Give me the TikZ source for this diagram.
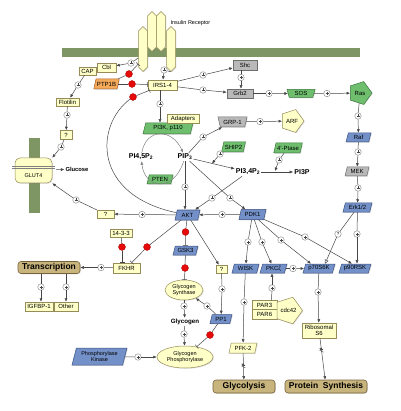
\documentclass[tikz,border=0pt]{standalone}
\usepackage{fontspec}
\setmainfont{Liberation Sans}
\usetikzlibrary{shapes,shapes.geometric,shapes.symbols,arrows.meta,shadows}
\definecolor{rc_yel}{RGB}{255, 255, 200}
\definecolor{rc_ybd}{RGB}{150, 140, 90}
\definecolor{rc_green}{RGB}{110, 190, 110}
\definecolor{rc_gbd}{RGB}{60, 120, 60}
\definecolor{rc_blue}{RGB}{115, 145, 200}
\definecolor{rc_bbd}{RGB}{60, 80, 130}
\definecolor{rc_grey}{RGB}{185, 185, 185}
\definecolor{rc_kbd}{RGB}{110, 110, 110}
\definecolor{rc_orange}{RGB}{245, 170, 90}
\definecolor{rc_obd}{RGB}{170, 100, 40}
\definecolor{rc_tan}{RGB}{200, 180, 125}
\definecolor{rc_tbd}{RGB}{120, 100, 60}
\definecolor{rc_mem}{RGB}{125, 150, 100}
\definecolor{rc_line}{RGB}{70, 70, 70}
\definecolor{rc_red}{RGB}{230, 10, 10}
\tikzstyle{shd}=[drop shadow={opacity=0.25,shadow xshift=0.8pt,shadow yshift=-0.8pt}]
\tikzstyle{ybox}=[rectangle,fill=rc_yel,draw=rc_ybd,line width=0.5pt,
  inner sep=1pt,minimum height=9pt,shd]
\tikzstyle{kbox}=[ybox,fill=rc_grey,draw=rc_kbd]
\tikzstyle{para}=[trapezium,trapezium left angle=70,trapezium right angle=110,
  trapezium stretches body,line width=0.5pt,inner sep=1pt,minimum height=9pt,shd]
\tikzstyle{bpar}=[para,fill=rc_blue,draw=rc_bbd]
\tikzstyle{gpar}=[para,fill=rc_green,draw=rc_gbd]
\tikzstyle{kpar}=[para,fill=rc_grey,draw=rc_kbd]
\tikzstyle{opar}=[para,fill=rc_orange,draw=rc_obd]
\tikzstyle{ypar}=[para,fill=rc_yel,draw=rc_ybd]
\tikzstyle{itrap}=[trapezium,trapezium angle=70,shape border rotate=180,
  trapezium stretches body,line width=0.5pt,inner sep=1pt,shd]
\tikzstyle{gitrap}=[itrap,fill=rc_green,draw=rc_gbd]
\tikzstyle{kitrap}=[itrap,fill=rc_grey,draw=rc_kbd]
\tikzstyle{pent}=[regular polygon,regular polygon sides=5,shape border rotate=-90,
  line width=0.5pt,inner sep=0pt,shd]
\tikzstyle{gpent}=[pent,fill=rc_green,draw=rc_gbd]
\tikzstyle{ypent}=[pent,fill=rc_yel,draw=rc_ybd]
\tikzstyle{oval}=[ellipse,fill=rc_yel,draw=rc_ybd,line width=0.5pt,inner sep=0.5pt,
  align=center,font=\fontsize{5.5}{6}\selectfont,shd]
\tikzstyle{outc}=[rectangle,rounded corners=3pt,fill=rc_tan,draw=rc_tbd,line width=0.6pt,
  inner sep=1pt,minimum height=13pt,font=\fontsize{8.5}{9}\selectfont\bfseries,shd]
\tikzstyle{mol}=[inner sep=1pt,font=\fontsize{7}{8}\selectfont\bfseries]
\tikzstyle{mols}=[inner sep=1pt,font=\fontsize{6.2}{7}\selectfont\bfseries]
\tikzstyle{rec}=[signal,signal to=north and south,fill=rc_yel,draw=rc_ybd,
  line width=0.5pt,inner sep=0pt,minimum width=9pt,shd]
\tikzstyle{pl}=[circle,draw=rc_line!70,fill=white,line width=0.4pt,inner sep=0pt,
  minimum size=6.5pt,path picture={
  \draw[rc_line,line width=0.4pt] ([xshift=-1.5pt]path picture bounding box.center)
    -- ([xshift=1.5pt]path picture bounding box.center)
    ([yshift=-1.5pt]path picture bounding box.center)
    -- ([yshift=1.5pt]path picture bounding box.center);}]
\tikzstyle{qc}=[circle,draw=rc_line!70,fill=white,line width=0.4pt,inner sep=0pt,
  minimum size=6.5pt,font=\fontsize{4.5}{5}\selectfont]
\tikzstyle{rd}=[circle,fill=rc_red,draw=rc_red!70!black,line width=0.3pt,
  inner sep=0pt,minimum size=7pt]
\tikzstyle{inh}=[-{Bar[width=5pt]}]
\tikzstyle{opn}=[-{Triangle[open,length=4pt,width=4pt]}]
\tikzstyle{brk}=[inner sep=0pt,minimum width=6pt,minimum height=6pt,path picture={
  \draw[rc_line,line width=0.4pt] ([shift={(-2pt,0.5pt)}]path picture bounding box.center)
    -- ++(4pt,-2pt) ([shift={(-2pt,2.5pt)}]path picture bounding box.center) -- ++(4pt,-2pt);}]
\tikzstyle{every node}=[text=black,font=\fontsize{6}{6.5}\selectfont]

\begin{document}
\begin{tikzpicture}[x=1pt,y=-1pt,rc_line,line width=0.5pt,>={Latex[length=3.5pt,width=3pt]}]
        \useasboundingbox (0,0) rectangle (400,411);
        % membranes
        \fill [rc_mem] (62,48) rectangle (360,57);
        \fill [rc_mem] (29,138) rectangle (40,213);
        % receptor
        \node [style=rec,minimum height=36pt] (r1) at (143,49) {};
        \node [style=rec,minimum height=31pt] (r2) at (152,31.5) {};
        \node [style=rec,minimum height=31pt] (r3) at (161,31.5) {};
        \node [style=rec,minimum height=36pt] (r4) at (171,49) {};
        \node [anchor=west,font=\fontsize{5.5}{6}\selectfont] (irl) at (167,23) {Insulin Receptor};
        % GLUT4
        \node [rectangle,rounded corners=5pt,fill=rc_yel,draw=rc_ybd,line width=0.5pt,
          minimum width=37pt,minimum height=25pt,shd,
          label={[yshift=-5pt,font=\fontsize{5.5}{6}\selectfont]center:GLUT4}] (glut) at (33.5,170.5) {};
        \draw [gray,line width=0.4pt] (12,166) -- (55,166) (12,168.5) -- (55,168.5);
        \node [style=mols,font=\fontsize{5.8}{6}\selectfont\bfseries] (glc) at (77,169) {Glucose};
        \draw [->,shorten <=4pt] (glut) to (glc);
        % nodes
        \node [style=ybox,minimum width=19pt] (cbl) at (106.5,67.5) {Cbl};
        \node [style=ybox,minimum width=17pt,minimum height=8pt] (cap) at (87.5,71) {CAP};
        \node [style=opar,minimum width=25pt,minimum height=10pt] (ptp) at (106.5,84) {PTP1B};
        \node [style=ybox,minimum width=29pt,minimum height=10pt] (irs) at (162.5,85) {IRS1-4};
        \node [style=ybox,minimum width=23pt,minimum height=8pt] (flo) at (67.5,102) {Flotilin};
        \node [style=ybox,minimum width=12pt] (q1) at (66,135) {?};
        \node [style=kbox,minimum width=24pt,minimum height=10pt] (shc) at (245,65) {Shc};
        \node [style=kbox,minimum width=26pt] (grb) at (240,93.5) {Grb2};
        \node [style=gitrap,minimum width=28pt,minimum height=8pt] (sos) at (301,93.5) {SOS};
        \node [style=gpent,minimum size=24pt] (ras) at (360,93) {Ras};
        \node [style=bpar,minimum width=25pt] (raf) at (358.5,137.5) {Raf};
        \node [style=kpar,minimum width=24pt] (mek) at (357,171.5) {MEK};
        \node [style=bpar,minimum width=29pt] (erk) at (357.5,207.5) {Erk1/2};
        \node [style=gpar,minimum width=50pt,minimum height=11pt] (pik) at (168,128.5) {PI3K, p110};
        \node [style=ybox,minimum width=32pt] (adp) at (183,118.5) {Adapters};
        \node [style=kitrap,minimum width=29pt,minimum height=10pt] (grp) at (232.5,122) {GRP-1};
        \node [style=ypent,minimum size=24pt] (arf) at (292,121) {ARF};
        \node [style=gpar,minimum width=23pt,minimum height=10pt] (shp) at (233.5,147) {SHIP2};
        \node [style=gpar,minimum width=28pt,minimum height=10pt] (pts) at (288,148) {4'-Ptase};
        \node [style=mol] (p45) at (141,157) {PI4,5P\textsubscript{2}};
        \node [style=mol] (pip) at (185,157) {PIP\textsubscript{3}};
        \node [style=gpar,minimum width=26pt] (ptn) at (160,179.5) {PTEN};
        \node [style=mol] (p34) at (248,172) {PI3,4P\textsubscript{2}};
        \node [style=mol] (p3p) at (302,172) {PI3P};
        \node [style=bpar,minimum width=25pt,minimum height=10pt] (akt) at (187.5,215) {AKT};
        \node [style=bpar,minimum width=27pt,minimum height=10pt] (pdk) at (252.5,214.5) {PDK1};
        \node [style=ybox,minimum width=17pt,minimum height=8pt] (q2) at (105.5,214) {?};
        \node [style=ybox,minimum width=22pt,minimum height=8pt] (t14) at (121,233.5) {14-3-3};
        \node [style=ybox,minimum width=27pt,minimum height=10pt] (fkhr) at (126.5,268) {FKHR};
        \node [style=outc,minimum width=62pt,minimum height=12pt] (trn) at (49,267.5) {Transcription};
        \node [style=ybox,minimum width=28pt] (igf) at (39,306.5) {IGFBP-1};
        \node [style=ybox,minimum width=24pt] (oth) at (66,306.5) {Other};
        \node [style=bpar,minimum width=25pt] (gsk) at (185.5,250.5) {GSK3};
        \node [style=oval,minimum width=38pt,minimum height=20pt] (gs) at (184,290) {Glycogen\\Synthase};
        \node [style=mols] (gly) at (185,322) {Glycogen};
        \node [style=oval,minimum width=56pt,minimum height=22pt] (gph) at (185,357) {Glycogen\\Phosphorylase};
        \node [style=bpar,minimum width=55pt,minimum height=17pt,align=center,
          font=\fontsize{5.5}{6}\selectfont] (phk) at (99.5,356.5) {Phosphorylase\\Kinase};
        \node [style=ybox,minimum width=11pt,minimum height=8pt] (q3) at (221.5,269) {?};
        \node [style=bpar,minimum width=22pt] (pp1) at (221,319) {PP1};
        \node [style=bpar,minimum width=27pt] (wsk) at (245.5,268.5) {WISK};
        \node [style=bpar,minimum width=27pt] (pkc) at (273.5,268.5) {PKCζ};
        \node [style=bpar,minimum width=32pt] (p70) at (319,268.5) {p70S6K};
        \node [style=bpar,minimum width=32pt] (p90) at (355,268.5) {p90RSK};
        \node [style=ybox,minimum width=25pt] (par3) at (264.5,305) {PAR3};
        \node [style=ybox,minimum width=25pt,minimum height=10pt] (par6) at (264.5,314.5) {PAR6};
        \node [style=ypent,minimum size=23pt] (cdc) at (288.5,310.5) {cdc42};
        \node [style=ypar,minimum width=28pt,minimum height=10pt] (pfk2) at (243,348) {PFK-2};
        \node [style=ybox,minimum width=34pt,minimum height=15pt,align=center] (rib) at (319,330.5) {Ribosomal\\S6};
        \node [style=outc,minimum width=62pt] (gcl) at (244,386.5) {Glycolysis};
        \node [style=outc,minimum width=82pt] (prs) at (326,386.5) {Protein\ \ Synthesis};
        % receptor signals
        \node [style=pl] (pcb) at (131,63) {};
        \node [style=pl] (pir) at (164,70) {};
        \draw (pcb) to ([yshift=-9pt]r1.west);
        \draw [->] (pcb) to (cbl);
        \draw (r4.south) to (pir);
        \draw [->] (pir) to (irs);
        \node [style=rd] (rd1) at (129,74) {};
        \node [style=rd] (rd2) at (132,84) {};
        \node [style=rd] (rd3) at (133,97) {};
        \draw (ptp) to (rd1);
        \draw [style=inh] (rd1) to ([yshift=-15pt]r1.west);
        \draw (ptp) to (rd2);
        \draw [style=inh] (rd2) to (irs);
        % CAP branch
        \node [style=pl] (pcp) at (78,85) {};
        \draw (cap) to (pcp);
        \draw [->] (pcp) to (flo);
        \node [style=pl] (pfl) at (67,115) {};
        \draw (flo) to (pfl);
        \draw [->] (pfl) to (q1);
        \node [style=pl] (pq1) at (61,147) {};
        \draw (q1) to (pq1);
        \draw [->] (pq1) to (glut.north east);
        % IRS branches
        \node [style=pl] (ppi) at (160,104) {};
        \draw (irs.south -| ppi) to (ppi);
        \draw [->] (ppi) to (pik.north -| ppi);
        \node [style=pl] (psh) at (203,75) {};
        \node [style=pl] (pgb) at (203,90) {};
        \draw (irs) to (psh);
        \draw [->] (psh) to (shc);
        \draw (irs) to (pgb);
        \draw [->] (pgb) to (grb);
        \node [style=pl] (psg) at (241,77.5) {};
        \draw (shc.south -| psg) to (psg);
        \draw [->] (psg) to (grb.north -| psg);
        \node [style=pl] (pso) at (269,93.5) {};
        \draw (grb) to (pso);
        \draw [->] (pso) to (sos);
        \node [style=pl] (pra) at (327,93.5) {};
        \draw (sos) to (pra);
        \draw [->] (pra) to (ras);
        \node [style=pl] (prf) at (358,116) {};
        \draw (ras) to (prf);
        \draw [->] (prf) to (raf);
        \node [style=pl] (pmk) at (358,152) {};
        \draw (raf) to (pmk);
        \draw [->] (pmk) to (mek);
        \node [style=pl] (pek) at (358,188) {};
        \draw (mek) to (pek);
        \draw [->] (pek) to (erk);
        \node [style=pl] (p9e) at (357,234) {};
        \draw (erk) to (p9e);
        \draw [->] (p9e) to (p9e |- p90.north);
        \node [style=qc] (q7e) at (338,234) {?};
        \draw (erk) to (q7e);
        \draw [style=opn] (q7e) to ([xshift=6pt]p70.north);
        % phosphoinositides
        \draw [->,gray] (p45) .. controls (146,128) and (172,128) .. (pip);
        \draw [->,gray] (pip) .. controls (174,192) and (145,190) .. (p45);
        \node [style=pl] (pgr) at (203,137) {};
        \draw (pip) to (pgr);
        \draw [->] (pgr) to (grp);
        \node [style=pl] (paf) at (260,121.5) {};
        \draw (grp) to (paf);
        \draw [->] (paf) to (arf);
        \draw [->] (pip) to (p34);
        \coordinate (cs) at (212,163.5);
        \node [style=pl] (psp) at (220,154) {};
        \draw (shp) to (psp);
        \draw [->] (psp) to (cs);
        \draw [->] (p34) to (p3p);
        \coordinate (ct) at (275,171);
        \node [style=pl] (ppt) at (279,160) {};
        \draw (pts) to (ppt);
        \draw [->] (ppt) to (ct);
        % AKT and PDK1
        \node [style=pl] (pak) at (185,187) {};
        \draw (pip) to (pak);
        \draw [->] (pak) to (akt.north -| pak);
        \node [style=pl] (p3a) at (212,198) {};
        \draw (p34) to (p3a);
        \draw [->] (p3a) to (akt);
        \node [style=pl] (ppd) at (230,198) {};
        \draw (pip) to (ppd);
        \draw [->] (ppd) to (pdk);
        \node [style=pl] (pda) at (222,214.5) {};
        \draw (pdk) to (pda);
        \draw [->] (pda) to (akt);
        % AKT targets
        \node [style=pl] (pq2) at (142,214.5) {};
        \draw (akt) to (pq2);
        \draw [->] (pq2) to (q2);
        \node [style=pl] (pgl) at (76,200) {};
        \draw (q2) to (pgl);
        \draw [->] (pgl) to (glut.south east);
        \draw (akt) .. controls (92,195) and (95,125) .. (rd3);
        \draw [style=inh] (rd3) to (irs);
        \node [style=rd] (rd4) at (122,247) {};
        \draw (t14) to (rd4);
        \draw [style=inh] (rd4) to (rd4 |- fkhr.north);
        \node [style=rd] (rd5) at (147,247) {};
        \draw (akt) to (rd5);
        \draw [style=inh] (rd5) to (fkhr);
        \node [style=pl] (pft) at (101,267.5) {};
        \draw (fkhr) to (pft);
        \draw [->] (pft) to (trn);
        \node [style=pl] (pig) at (41,287) {};
        \node [style=pl] (pot) at (66,287) {};
        \draw (trn.south -| pig) to (pig);
        \draw [->] (pig) to (igf.north -| pig);
        \draw (trn.south -| pot) to (pot);
        \draw [->] (pot) to (oth.north -| pot);
        \node [style=rd] (rd6) at (185.5,232) {};
        \draw (akt) to (rd6);
        \draw [style=inh] (rd6) to (gsk);
        \node [style=rd] (rd7) at (185,268) {};
        \draw (gsk) to (rd7);
        \draw [style=inh] (rd7) to (gs);
        \node [style=pl] (pgy) at (184,306) {};
        \draw (gs) to (pgy);
        \draw [->] (pgy) to (gly);
        \node [style=pl] (pgp) at (184,334) {};
        \draw (gly) to (pgp);
        \draw [->] (pgp) to (gph);
        \node [style=pl] (pph) at (138,357) {};
        \draw (phk) to (pph);
        \draw [->] (pph) to (gph);
        \draw [->] (akt) to (q3);
        \node [style=pl] (ppp) at (222,289) {};
        \draw (q3) to (ppp);
        \draw [->] (ppp) to (pp1);
        \node [style=pl] (pps) at (207,306) {};
        \draw (pp1) to (pps);
        \draw [->] (pps) to (gs);
        \node [style=rd] (rd8) at (210,335) {};
        \draw (pp1) to (rd8);
        \draw [style=inh] (rd8) to (gph);
        % PDK1 targets
        \node [style=pl] (pwk) at (248,242) {};
        \node [style=pl] (ppc) at (262,242) {};
        \node [style=pl] (p7p) at (281,240) {};
        \node [style=pl] (p9p) at (305,237) {};
        \draw (pdk) to (pwk);
        \draw [->] (pwk) to (wsk);
        \draw (pdk) to (ppc);
        \draw [->] (ppc) to (pkc);
        \draw (pdk) to (p7p);
        \draw [->] (p7p) to ([xshift=-8pt]p70.north);
        \draw (pdk) to (p9p);
        \draw [->] (p9p) to ([xshift=-3pt]p90.north);
        \node [style=pl] (pkp) at (293,268.5) {};
        \draw (pkc) to (pkp);
        \draw [->] (pkp) to (p70);
        \node [style=pl] (ppr) at (272,288) {};
        \draw ([xshift=7pt]par3.north) to (ppr);
        \draw [->] (ppr) to (pkc.south -| ppr);
        \node [style=pl] (ppf) at (244,302) {};
        \draw (wsk) to (ppf);
        \draw [->] (ppf) to (pfk2);
        \node [style=pl] (prb) at (318,292) {};
        \draw (p70) to (prb);
        \draw [->] (prb) to (rib);
        \draw [->] (pfk2) to node [style=brk] {} (gcl);
        \draw [->] (rib) to node [style=brk,pos=0.3] {} (prs);
    \end{tikzpicture}
\end{document}
